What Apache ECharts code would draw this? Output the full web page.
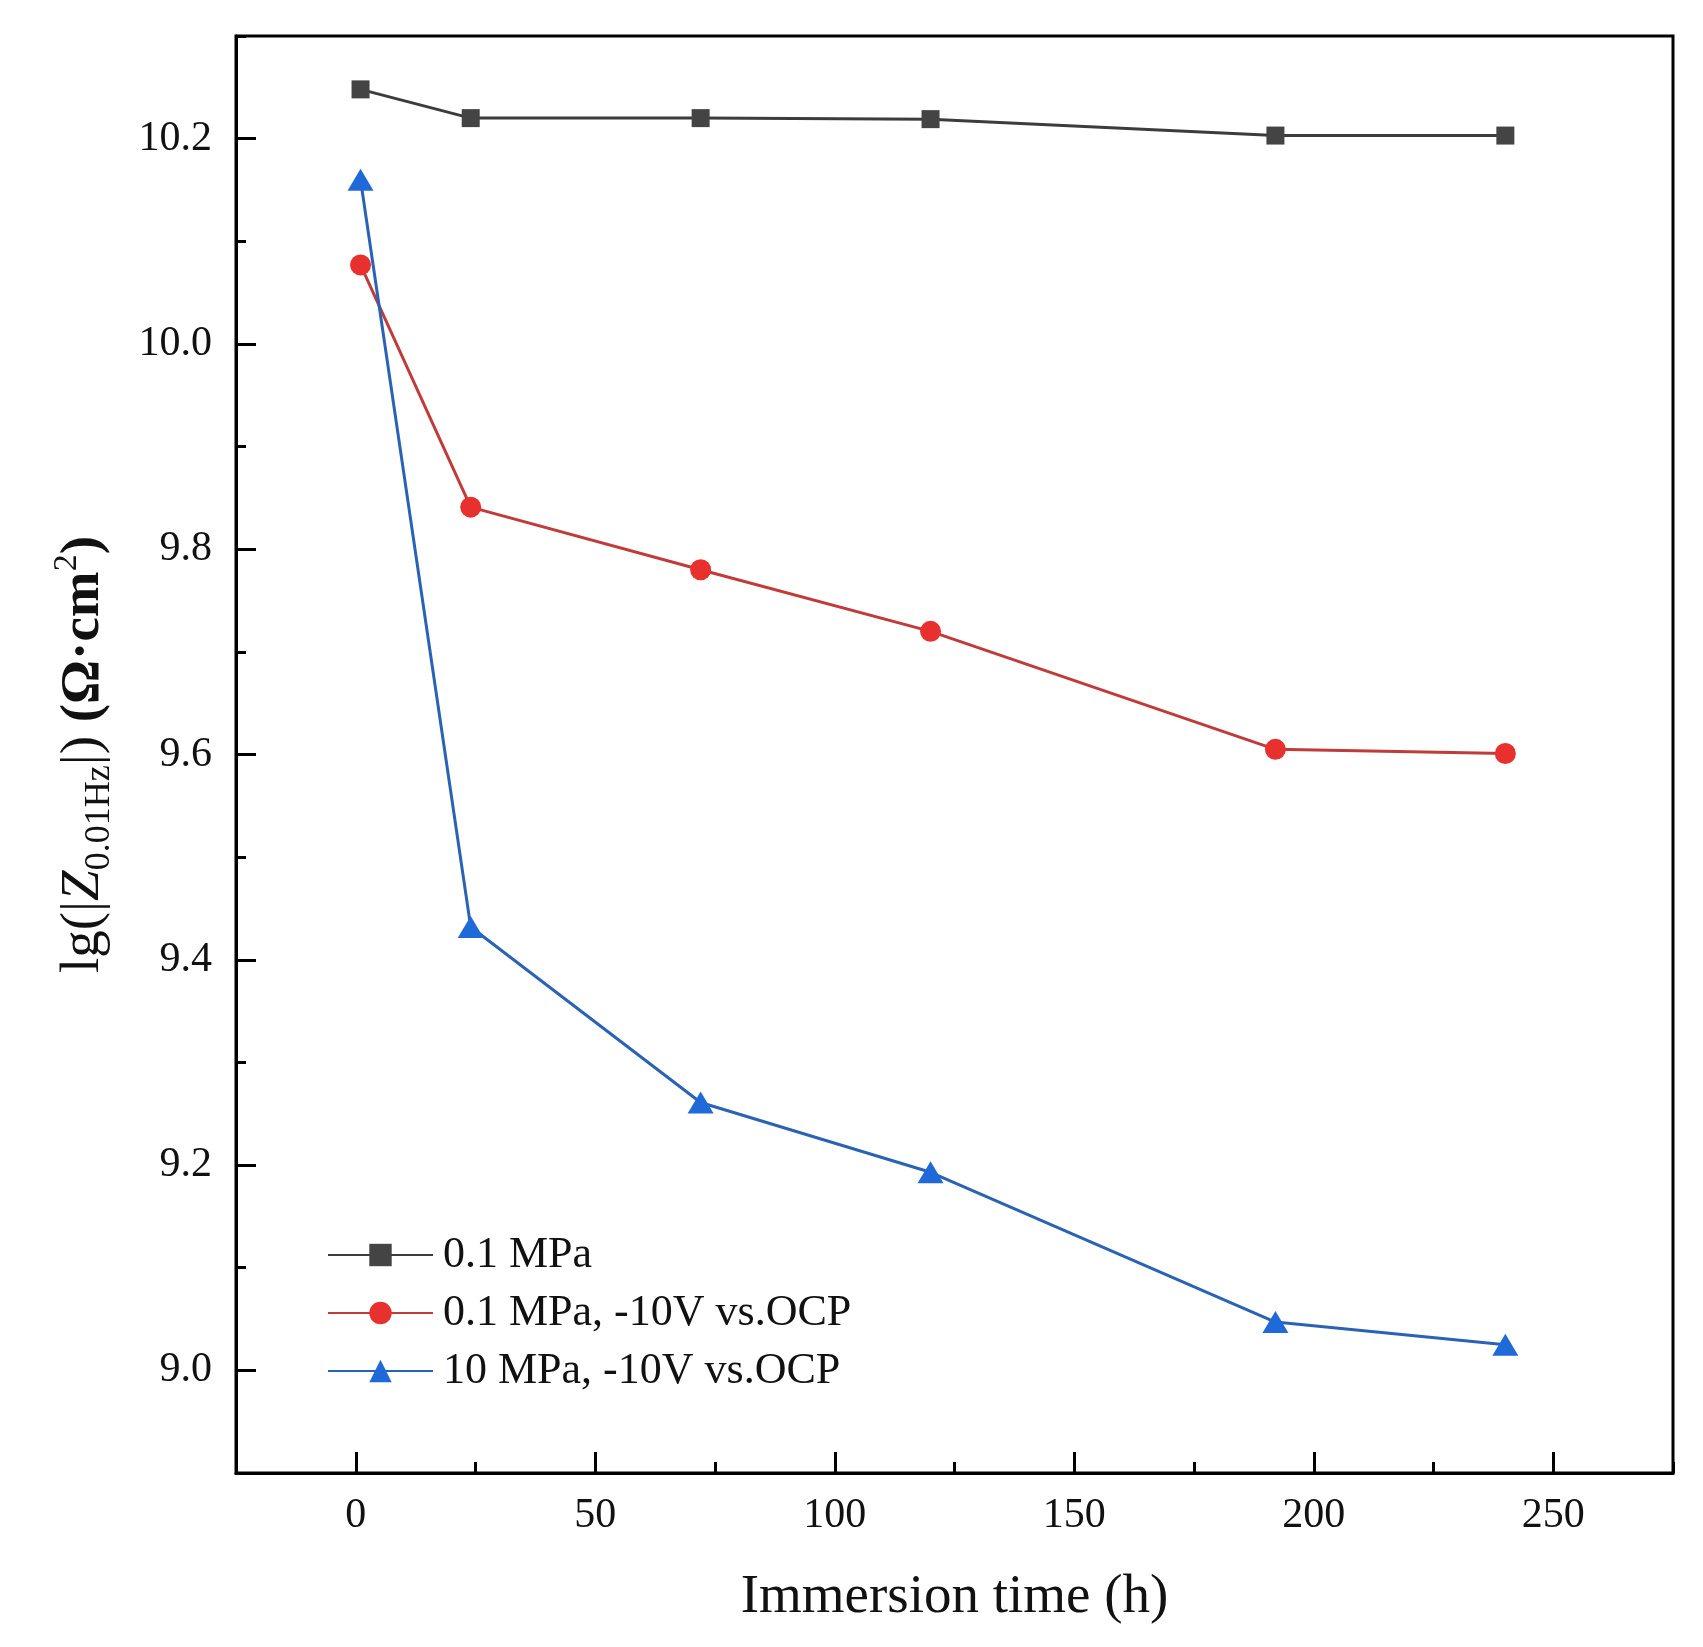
<!DOCTYPE html>
<html>
<head>
<meta charset="utf-8">
<script src="https://cdn.jsdelivr.net/npm/echarts@6/dist/echarts.min.js"></script>
<style>
html,body{margin:0;padding:0;background:#fff;}
#chart{width:1703px;height:1647px;}
</style>
</head>
<body>
<div id="chart"></div>
<script>
// Data
var times = [1, 24, 72, 120, 192, 240];
var seriesNames = ['0.1 MPa', '0.1 MPa, -10V vs.OCP', '10 MPa, -10V vs.OCP'];
var s01MPa = [10.248, 10.220, 10.220, 10.219, 10.203, 10.203];
var s01MPaBias = [10.077, 9.841, 9.780, 9.720, 9.605, 9.601];
var s10MPaBias = [10.160, 9.432, 9.261, 9.193, 9.047, 9.025];
var xMajorTicks = [0, 50, 100, 150, 200, 250];
var yMajorTicks = [9.0, 9.2, 9.4, 9.6, 9.8, 10.0, 10.2];

function pairs(xs, ys) { return xs.map(function (x, i) { return [x, ys[i]]; }); }

var FONT = '"Liberation Serif", "Times New Roman", serif';
var chart = echarts.init(document.getElementById('chart'));

chart.setOption({
  backgroundColor: '#ffffff',
  animation: false,
  grid: {
    left: 236, right: 30, top: 36, bottom: 174,
    show: true, borderColor: '#000', borderWidth: 3, backgroundColor: 'transparent'
  },
  legend: {
    orient: 'vertical',
    left: 322, top: 1228,
    itemWidth: 105, itemHeight: 28, itemGap: 14,
    data: seriesNames,
    textStyle: { fontFamily: FONT, fontSize: 44, color: '#111', padding: [0, 0, 0, 5] }
  },
  xAxis: [{
    type: 'value', min: -25, max: 275, interval: 25,
    axisLine: { show: true, onZero: false, lineStyle: { color: '#000', width: 3 } },
    axisTick: { show: true, inside: true, length: 11, lineStyle: { color: '#000', width: 3 } },
    axisLabel: { show: false },
    splitLine: { show: false },
    name: 'Immersion time (h)', nameLocation: 'middle', nameGap: 97,
    nameTextStyle: { fontFamily: FONT, fontSize: 55, color: '#111' }
  }, {
    type: 'value', min: -25, max: 275, position: 'bottom',
    axisLine: { show: false, onZero: false },
    axisTick: { show: true, inside: true, length: 21, customValues: xMajorTicks, lineStyle: { color: '#000', width: 3 } },
    axisLabel: { show: true, customValues: xMajorTicks, margin: 22, fontFamily: FONT, fontSize: 42, color: '#111' },
    splitLine: { show: false }
  }],
  yAxis: [{
    type: 'value', min: 8.9, max: 10.3, interval: 0.1,
    axisLine: { show: true, onZero: false, lineStyle: { color: '#000', width: 3 } },
    axisTick: { show: true, inside: true, length: 10, lineStyle: { color: '#000', width: 3 } },
    axisLabel: { show: false },
    splitLine: { show: false },
    name: '{n|lg(|}{z|Z}{sub|0.01Hz}{n||) }{b|(Ω·cm}{sup|2}{b|)}',
    nameLocation: 'middle', nameGap: 118, nameRotate: 90,
    nameTextStyle: {
      fontFamily: FONT, fontSize: 55, color: '#111',
      rich: {
        n: { fontFamily: FONT, fontSize: 55, lineHeight: 68, verticalAlign: 'middle', color: '#111' },
        z: { fontFamily: FONT, fontSize: 55, fontStyle: 'italic', lineHeight: 68, verticalAlign: 'middle', color: '#111' },
        sub: { fontFamily: FONT, fontSize: 36, lineHeight: 36, verticalAlign: 'bottom', color: '#111' },
        b: { fontFamily: FONT, fontSize: 55, fontWeight: 'bold', lineHeight: 68, verticalAlign: 'middle', color: '#111' },
        sup: { fontFamily: FONT, fontSize: 34, lineHeight: 34, verticalAlign: 'top', color: '#111' }
      }
    }
  }, {
    type: 'value', min: 8.9, max: 10.3, position: 'left',
    axisLine: { show: false, onZero: false },
    axisTick: { show: true, inside: true, length: 20, customValues: yMajorTicks, lineStyle: { color: '#000', width: 3 } },
    axisLabel: {
      show: true, customValues: yMajorTicks, margin: 24, fontFamily: FONT, fontSize: 42, color: '#111',
      formatter: function (v) { return v.toFixed(1); }
    },
    splitLine: { show: false }
  }],
  series: [{
    name: seriesNames[0], type: 'line', xAxisIndex: 0, yAxisIndex: 0,
    data: pairs(times, s01MPa),
    symbol: 'rect', symbolSize: 18,
    lineStyle: { color: '#3c3c3c', width: 3 },
    itemStyle: { color: '#444444' }
  }, {
    name: seriesNames[1], type: 'line', xAxisIndex: 0, yAxisIndex: 0,
    data: pairs(times, s01MPaBias),
    symbol: 'circle', symbolSize: 21,
    lineStyle: { color: '#c23b3b', width: 3 },
    itemStyle: { color: '#e8302f' }
  }, {
    name: seriesNames[2], type: 'line', xAxisIndex: 0, yAxisIndex: 0,
    data: pairs(times, s10MPaBias),
    symbol: 'triangle', symbolSize: [26, 22],
    lineStyle: { color: '#2a62b4', width: 3 },
    itemStyle: { color: '#1f6ad8' }
  }]
});
</script>
</body>
</html>
